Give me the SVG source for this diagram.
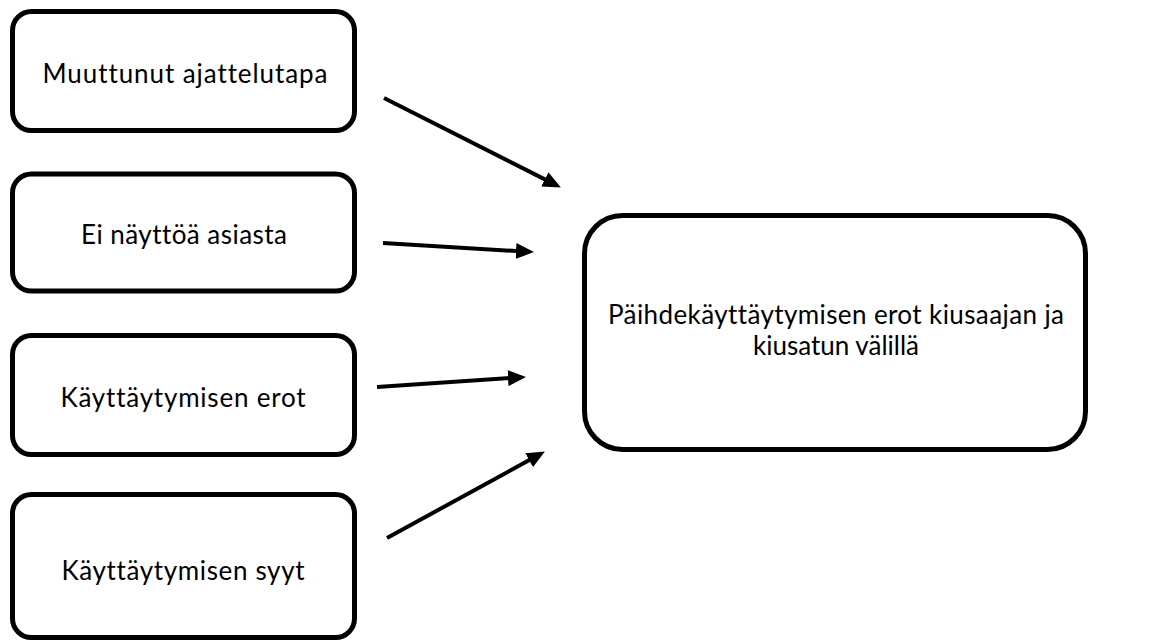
<svg xmlns="http://www.w3.org/2000/svg" width="1163" height="642" viewBox="0 0 1163 642">
  <style>
    .box { fill: #ffffff; stroke: #000000; stroke-width: 5; }
    .lbl { font-family: Lato, "Open Sans", "Liberation Sans", sans-serif; font-size: 26px; fill: #000000; text-anchor: middle; font-variant-ligatures: none; }
    .conn { stroke: #000000; stroke-width: 4; fill: none; marker-end: url(#arrow); }
  </style>
  <defs>
    <marker id="arrow" markerUnits="userSpaceOnUse" markerWidth="18" markerHeight="16" refX="5" refY="8" orient="auto" viewBox="0 0 18 16">
      <path d="M0,0 L18,8 L0,16 z" fill="#000000"/>
    </marker>
  </defs>
  <rect width="1163" height="642" fill="#ffffff"/>
  <g id="node-muuttunut">
    <rect class="box" x="12.5" y="11.5" width="342" height="119" rx="19"/>
    <text class="lbl" x="185" y="83" textLength="285" lengthAdjust="spacing">Muuttunut ajattelutapa</text>
  </g>
  <g id="node-ei-nayttoa">
    <rect class="box" x="12.5" y="174" width="342" height="117" rx="19"/>
    <text class="lbl" x="184" y="244" textLength="206" lengthAdjust="spacing">Ei näyttöä asiasta</text>
  </g>
  <g id="node-erot">
    <rect class="box" x="12.5" y="335.5" width="342" height="119" rx="19"/>
    <text class="lbl" x="183" y="407" textLength="245" lengthAdjust="spacing">Käyttäytymisen erot</text>
  </g>
  <g id="node-syyt">
    <rect class="box" x="12.5" y="494.5" width="342" height="143" rx="19"/>
    <text class="lbl" x="183" y="580" textLength="243" lengthAdjust="spacing">Käyttäytymisen syyt</text>
  </g>
  <g id="node-paihde">
    <rect class="box" x="584.5" y="215.5" width="501" height="234" rx="38"/>
    <text class="lbl" x="836" y="324" textLength="456" lengthAdjust="spacing">Päihdekäyttäytymisen erot kiusaajan ja</text>
    <text class="lbl" x="836" y="355">kiusatun välillä</text>
  </g>
  <g id="connectors">
    <line class="conn" x1="384" y1="98" x2="549.3" y2="181.6"/>
    <line class="conn" x1="383" y1="243" x2="521" y2="251.3"/>
    <line class="conn" x1="377" y1="387" x2="513" y2="377.8"/>
    <line class="conn" x1="387" y1="538" x2="533.5" y2="457.8"/>
  </g>
</svg>
